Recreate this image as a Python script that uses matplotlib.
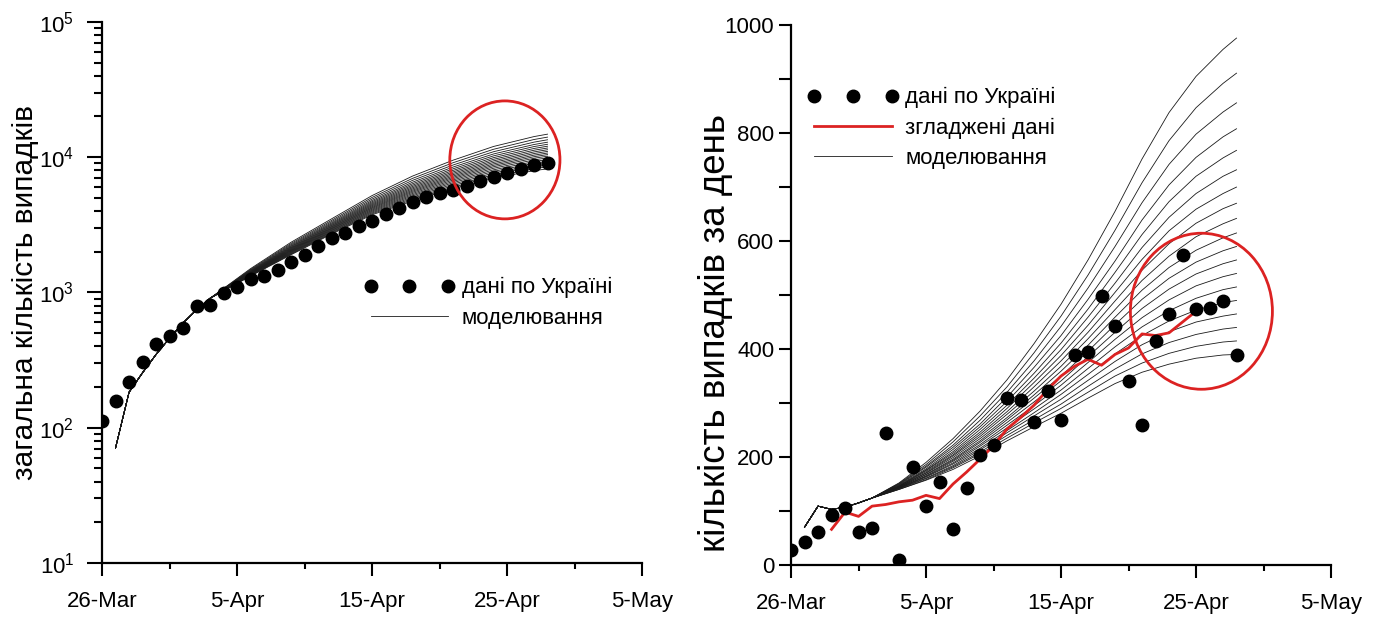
import numpy as np
import matplotlib.pyplot as plt
from matplotlib.patches import Ellipse
from matplotlib.ticker import FixedLocator, LogLocator, MultipleLocator, NullFormatter

plt.rcParams['font.family'] = ['Liberation Sans', 'DejaVu Sans']
plt.rcParams['mathtext.default'] = 'regular'

# Осі часу: день 0 = 26 березня
tick_days = [0, 10, 20, 30, 40]
tick_labels = ['26-Mar', '5-Apr', '15-Apr', '25-Apr', '5-May']

# Дані по Україні (дні 0..33)
data_days = np.arange(34)
cases_total = [113, 157, 218, 307, 419, 478, 548, 792, 805, 988, 1095, 1248,
               1314, 1462, 1675, 1901, 2191, 2542, 2768, 3099, 3397, 3784,
               4190, 4643, 5117, 5410, 5697, 6125, 6670, 7142, 7609, 8147,
               8730, 9075]
cases_daily = [28, 42, 61, 92, 106, 61, 69, 244, 9, 181, 109, 154, 67, 142,
               204, 222, 309, 306, 265, 323, 269, 389, 395, 499, 443, 341,
               260, 414, 465, 575, 474, 476, 489, 389]

# Згладжені дані (дні 3..30)
smooth_days = np.arange(3, 31)
cases_smooth = [66, 98, 90, 109, 112, 117, 120, 129, 123, 150, 172, 196, 221,
                252, 273, 296, 325, 350, 368, 381, 370, 390, 402, 428, 425,
                430, 450, 470]

# Моделювання: загальна кількість
total_head_days = [1, 2, 3, 4, 5, 6, 7, 8]
total_head = [71, 183, 255, 348, 460, 595, 745, 905]
total_days = [11, 14, 17, 20, 23, 26, 29, 32, 33]
model_total = [
    [1500, 2350, 3500, 5200, 7250, 9500, 12000, 14200, 14800],
    [1480, 2300, 3410, 5040, 6970, 9100, 11440, 13510, 14070],
    [1463, 2258, 3336, 4903, 6738, 8752, 10975, 12919, 13447],
    [1448, 2221, 3270, 4784, 6533, 8452, 10565, 12406, 12906],
    [1436, 2190, 3216, 4685, 6363, 8204, 10225, 11981, 12457],
    [1425, 2163, 3167, 4597, 6210, 7982, 9920, 11600, 12054],
    [1415, 2138, 3123, 4517, 6073, 7781, 9645, 11256, 11691],
    [1406, 2115, 3082, 4443, 5945, 7595, 9390, 10938, 11355],
    [1397, 2094, 3044, 4374, 5825, 7420, 9150, 10638, 11038],
    [1389, 2073, 3007, 4307, 5710, 7252, 8920, 10350, 10734],
    [1381, 2053, 2973, 4244, 5603, 7095, 8705, 10081, 10451],
    [1374, 2035, 2939, 4184, 5498, 6941, 8495, 9819, 10173],
    [1366, 2015, 2905, 4121, 5390, 6784, 8280, 9550, 9890],
    [1358, 1996, 2870, 4059, 5283, 6627, 8065, 9281, 9606],
    [1351, 1977, 2837, 3998, 5178, 6474, 7855, 9019, 9329],
    [1343, 1958, 2802, 3936, 5070, 6317, 7640, 8750, 9045],
    [1335, 1938, 2768, 3873, 4963, 6160, 7425, 8481, 8761],
    [1328, 1919, 2734, 3812, 4858, 6007, 7215, 8219, 8484],
    [1320, 1900, 2700, 3750, 4750, 5850, 7000, 7950, 8200],
]

# Моделювання: кількість за день
daily_head_days = [1, 2, 3, 4, 5, 6]
daily_head = [70, 109, 103, 107, 115, 124]
daily_days = [8, 10, 12, 14, 16, 18, 20, 22, 24, 26, 28, 30, 32, 33]
model_daily = [
    [152, 190, 234, 285, 343, 410, 483, 565, 655, 752, 838, 905, 955, 976],
    [151, 186, 228, 276, 330, 393, 461, 537, 620, 708, 786, 847, 892, 911],
    [150, 183, 222, 268, 320, 378, 442, 513, 590, 671, 742, 798, 839, 856],
    [149, 181, 218, 261, 311, 366, 425, 492, 563, 639, 704, 755, 793, 808],
    [148, 178, 214, 256, 303, 355, 411, 474, 542, 612, 673, 720, 754, 768],
    [147, 176, 210, 251, 296, 346, 399, 459, 522, 588, 644, 688, 720, 732],
    [146, 175, 207, 246, 290, 338, 388, 444, 505, 566, 619, 659, 688, 700],
    [146, 173, 204, 242, 284, 330, 378, 431, 489, 546, 595, 633, 660, 670],
    [145, 171, 202, 238, 279, 322, 368, 419, 473, 527, 572, 608, 632, 642],
    [145, 170, 199, 234, 273, 315, 359, 407, 459, 509, 551, 583, 606, 615],
    [144, 168, 196, 230, 269, 309, 350, 396, 445, 492, 531, 561, 582, 590],
    [144, 167, 194, 227, 264, 302, 341, 386, 431, 475, 511, 539, 558, 565],
    [143, 165, 192, 223, 259, 295, 333, 375, 418, 458, 491, 517, 534, 540],
    [143, 164, 189, 220, 254, 289, 324, 364, 404, 441, 471, 494, 510, 515],
    [142, 163, 187, 216, 249, 282, 316, 353, 391, 425, 452, 472, 486, 490],
    [142, 161, 184, 213, 245, 276, 307, 342, 377, 408, 432, 450, 461, 465],
    [141, 160, 182, 209, 240, 269, 298, 331, 363, 391, 412, 427, 437, 440],
    [140, 158, 180, 206, 235, 263, 290, 320, 350, 374, 392, 405, 413, 415],
    [140, 157, 177, 202, 230, 256, 281, 309, 336, 357, 372, 383, 389, 390],
]

RED = '#dc2222'
LINE = '#1a1a1a'

fig = plt.figure(figsize=(13.81, 6.17), dpi=100)
ax1 = fig.add_axes([0.0739, 0.0875, 0.391, 0.877])
ax2 = fig.add_axes([0.5728, 0.0843, 0.391, 0.875])


def style_axis(ax):
    for side in ['top', 'right']:
        ax.spines[side].set_visible(False)
    for side in ['left', 'bottom']:
        ax.spines[side].set_linewidth(1.6)
    ax.set_xlim(0, 40)
    ax.xaxis.set_major_locator(FixedLocator(tick_days))
    ax.set_xticklabels(tick_labels)
    ax.xaxis.set_minor_locator(MultipleLocator(5))
    ax.tick_params(which='major', direction='out', length=9, width=1.5,
                   labelsize=16)
    ax.tick_params(which='minor', direction='out', length=4.5, width=1.5)
    ax.tick_params(axis='x', which='major', pad=11)


def add_legend(ax, anchor):
    h, l = ax.get_legend_handles_labels()
    ax.legend(h[::-1], l[::-1], loc='upper left', bbox_to_anchor=anchor,
              frameon=False, numpoints=3, handlelength=4.1, handletextpad=0.3,
              labelspacing=0.42, borderpad=0, borderaxespad=0, fontsize=16)


# Ліва панель: загальна кількість випадків
style_axis(ax1)
for i, row in enumerate(model_total):
    ax1.plot(total_head_days + total_days, total_head + row, color=LINE,
             lw=0.6, zorder=1,
             label='моделювання' if i == 0 else '_nolegend_')
ax1.plot(data_days, cases_total, 'o', color='black', ms=9, zorder=3,
         label='дані по Україні')
ax1.set_yscale('log')
ax1.set_ylim(10, 1e5)
ax1.yaxis.set_major_locator(LogLocator(base=10))
ax1.yaxis.set_minor_locator(LogLocator(base=10, subs=np.arange(2, 10)))
ax1.yaxis.set_minor_formatter(NullFormatter())
ax1.tick_params(axis='y', which='major', length=11, pad=9)
ax1.tick_params(axis='y', which='minor', length=5.5)
ax1.set_ylabel('загальна кількість випадків', fontsize=21.5)
ax1.yaxis.set_label_coords(-0.117, 0.5)
ax1.add_patch(Ellipse((0.746, 0.745), 0.204, 0.218, transform=ax1.transAxes,
                      fill=False, edgecolor=RED, lw=2, zorder=4))
add_legend(ax1, (0.485, 0.528))

# Права панель: кількість випадків за день
style_axis(ax2)
for i, row in enumerate(model_daily):
    ax2.plot(daily_head_days + daily_days, daily_head + row, color=LINE,
             lw=0.6, zorder=1,
             label='моделювання' if i == 0 else '_nolegend_')
ax2.plot(smooth_days, cases_smooth, color=RED, lw=2, zorder=2,
         label='згладжені дані')
ax2.plot(data_days, cases_daily, 'o', color='black', ms=9, zorder=3,
         label='дані по Україні')
ax2.set_ylim(0, 1000)
ax2.yaxis.set_major_locator(MultipleLocator(200))
ax2.yaxis.set_minor_locator(MultipleLocator(100))
ax2.tick_params(axis='y', which='major', pad=3)
ax2.tick_params(axis='y', which='minor', length=9)
ax2.set_ylabel('кількість випадків за день', fontsize=26.5)
ax2.yaxis.set_label_coords(-0.107, 0.43)
ax2.add_patch(Ellipse((0.76, 0.47), 0.263, 0.289, transform=ax2.transAxes,
                      fill=False, edgecolor=RED, lw=2, zorder=4))
add_legend(ax2, (0.03, 0.885))

fig.savefig('out.png', dpi=100)
